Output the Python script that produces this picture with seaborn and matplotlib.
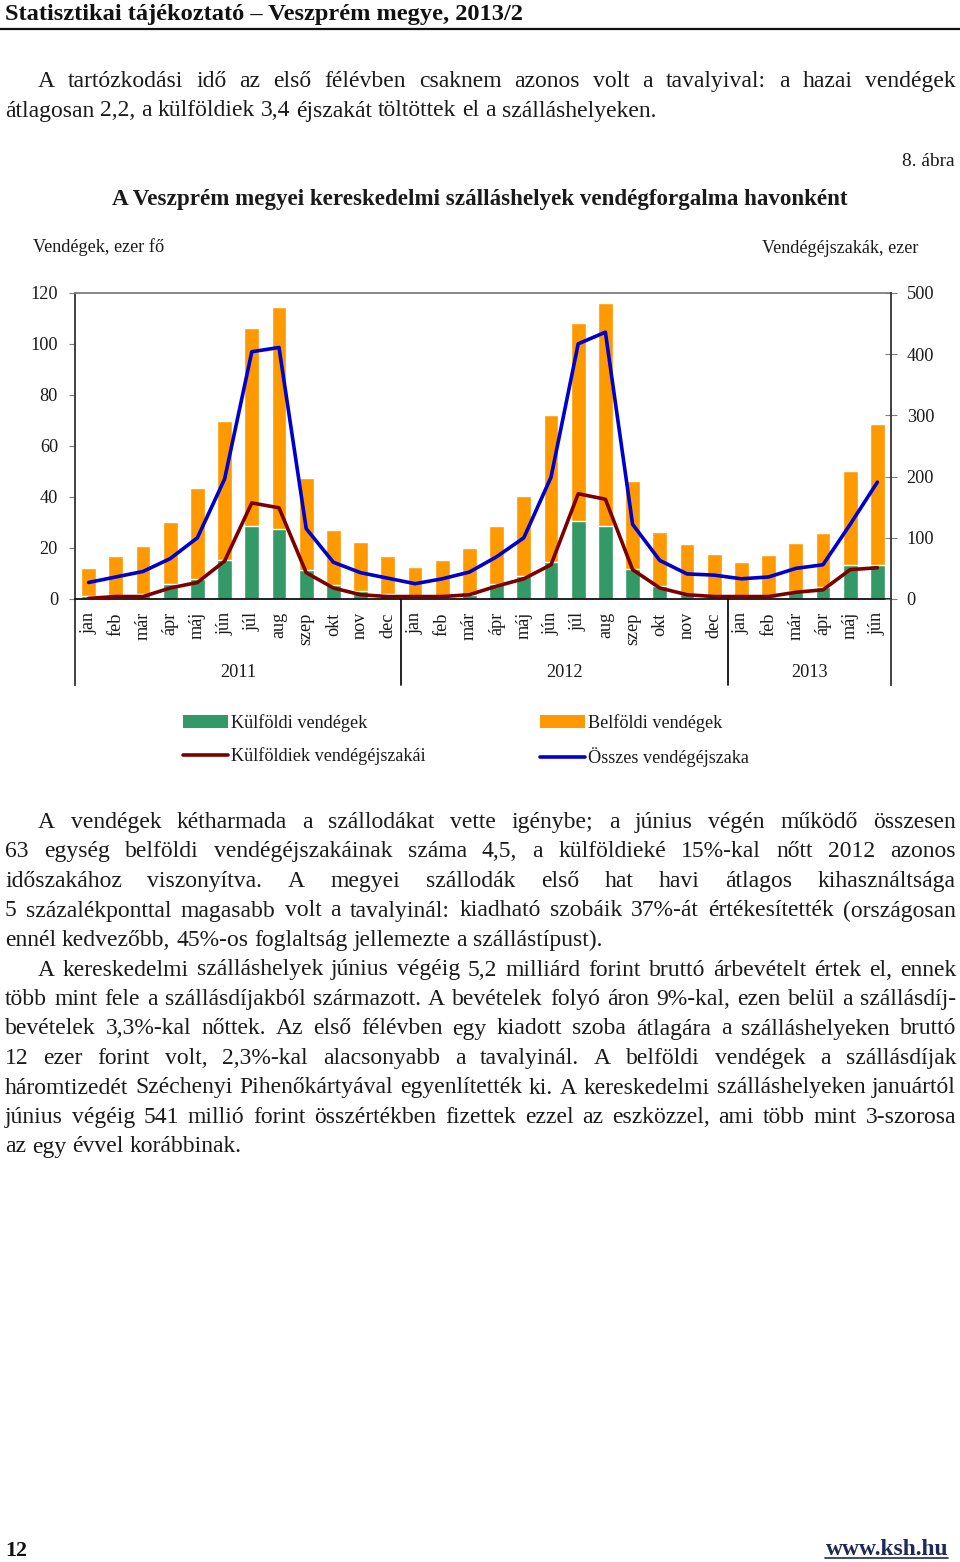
import matplotlib
matplotlib.use('Agg')
import matplotlib.pyplot as plt
import matplotlib.transforms as mtransforms
from matplotlib.patches import Patch
from matplotlib.lines import Line2D
import seaborn as sns
import pandas as pd
import numpy as np

# ---------------- data ----------------
months = ["jan", "feb", "már", "ápr", "máj", "jún", "júl", "aug", "szep", "okt", "nov", "dec",
          "jan", "feb", "már", "ápr", "máj", "jún", "júl", "aug", "szep", "okt", "nov", "dec",
          "jan", "feb", "már", "ápr", "máj", "jún"]
years = ["2011", "2012", "2013"]
year_lengths = [12, 12, 6]

# guests, thousand persons (left axis)
foreign_guests = [1.0, 0.5, 2.1, 5.9, 7.9, 15.2, 28.8, 27.5, 11.4, 5.4, 3.0, 2.1,
                  0.4, 0.5, 1.7, 5.9, 8.9, 14.4, 30.5, 28.7, 11.9, 5.0, 2.0, 1.0,
                  0.4, 0.4, 3.0, 4.7, 13.4, 13.4]
domestic_guests = [11.2, 16.5, 18.6, 24.1, 35.7, 54.5, 77.4, 86.9, 36.0, 21.6, 19.5, 14.9,
                   12.2, 14.6, 18.4, 22.8, 31.6, 57.8, 77.6, 87.4, 34.2, 21.3, 19.4, 16.7,
                   14.2, 16.8, 18.9, 21.1, 36.7, 55.2]
# guest nights, thousand (right axis)
foreign_nights = [1, 4, 4, 18, 27, 62, 157, 149, 43, 18, 7, 4,
                  4, 4, 7, 21, 33, 56, 172, 163, 48, 18, 7, 4,
                  4, 4, 11, 15, 48, 51]
total_nights = [27, 36, 45, 66, 100, 196, 404, 411, 115, 60, 43, 34,
                25, 33, 44, 69, 100, 199, 417, 436, 122, 63, 41, 39,
                33, 36, 50, 56, 122, 191]

left_ticks = [0, 20, 40, 60, 80, 100, 120]
right_ticks = [0, 100, 200, 300, 400, 500]

legend_labels = ["Külföldi vendégek", "Külföldiek vendégéjszakái",
                 "Belföldi vendégek", "Összes vendégéjszaka"]

para1 = ["A tartózkodási idő az első félévben csaknem azonos volt a tavalyival: a hazai vendégek",
         "átlagosan 2,2, a külföldiek 3,4 éjszakát töltöttek el a szálláshelyeken."]
para2 = ["A vendégek kétharmada a szállodákat vette igénybe; a június végén működő összesen",
         "63 egység belföldi vendégéjszakáinak száma 4,5, a külföldieké 15%-kal nőtt 2012 azonos",
         "időszakához viszonyítva. A megyei szállodák első hat havi átlagos kihasználtsága",
         "5 százalékponttal magasabb volt a tavalyinál: kiadható szobáik 37%-át értékesítették (országosan",
         "ennél kedvezőbb, 45%-os foglaltság jellemezte a szállástípust)."]
para3 = ["A kereskedelmi szálláshelyek június végéig 5,2 milliárd forint bruttó árbevételt értek el, ennek",
         "több mint fele a szállásdíjakból származott. A bevételek folyó áron 9%-kal, ezen belül a szállásdíj-",
         "bevételek 3,3%-kal nőttek. Az első félévben egy kiadott szoba átlagára a szálláshelyeken bruttó",
         "12 ezer forint volt, 2,3%-kal alacsonyabb a tavalyinál. A belföldi vendégek a szállásdíjak",
         "háromtizedét Széchenyi Pihenőkártyával egyenlítették ki. A kereskedelmi szálláshelyeken januártól",
         "június végéig 541 millió forint összértékben fizettek ezzel az eszközzel, ami több mint 3-szorosa",
         "az egy évvel korábbinak."]

# ---------------- style ----------------
sns.set_theme(style='white')
plt.rcParams['font.family'] = ['Liberation Serif', 'DejaVu Serif']
plt.rcParams['text.color'] = '#1a1a1a'

GREEN = '#339966'
ORANGE = '#FF9900'
BROWN = '#7B0000'
BLUE = '#0000CC'
TXT = '#1a1a1a'

W, H = 960, 1562
fig = plt.figure(figsize=(W / 100, H / 100), dpi=100)
renderer = fig.canvas.get_renderer()


def px(x, y):
    return x / W, 1 - y / H


def text_width(s, size, weight='normal'):
    t = fig.text(0, 0, s, fontsize=size, fontweight=weight)
    w = t.get_window_extent(renderer).width
    t.remove()
    return w


def fit_size(s, target, weight='normal'):
    return 15 * target / text_width(s, 15, weight)


# ---------------- header ----------------
hdr = "Statisztikai tájékoztató – Veszprém megye, 2013/2"
fig.text(*px(5, 20), hdr, fontsize=fit_size(hdr, 518, 'bold'), fontweight='bold',
         va='baseline', ha='left', color='#111111')
fig.add_artist(Line2D([0, 1], [1 - 28.5 / H] * 2, color='#111111', lw=1.6,
                      transform=fig.transFigure))

# ---------------- body text ----------------
body_size = fit_size(para1[1], 655)
space_w = text_width('a a', body_size) - text_width('aa', body_size)


def draw_line(s, x0, x1, ybase, justify):
    words = s.split(' ')
    widths = [text_width(w, body_size) for w in words]
    if justify and len(words) > 1:
        gap = (x1 - x0 - sum(widths)) / (len(words) - 1)
    else:
        gap = space_w
    x = x0
    for w, wd in zip(words, widths):
        fig.text(*px(x, ybase), w, fontsize=body_size, va='baseline', ha='left', color=TXT)
        x += wd + gap


def draw_para(lines, y0, step=29.5, indent=33, x0=5, x1=956):
    for i, line in enumerate(lines):
        xs = x0 + (indent if i == 0 else 0)
        draw_line(line, xs, x1, y0 + i * step, justify=(i < len(lines) - 1))


draw_para(para1, 87)
draw_para(para2, 828)
draw_para(para3, 975.5)

# ---------------- chart titles ----------------
title = "A Veszprém megyei kereskedelmi szálláshelyek vendégforgalma havonként"
fig.text(*px(480, 205), title, fontsize=fit_size(title, 735, 'bold'), fontweight='bold',
         ha='center', va='baseline', color=TXT)
fs_chart = fit_size("Vendégek, ezer fő", 132)
fig.text(*px(955, 166), "8. ábra", fontsize=fs_chart + 0.8, ha='right', va='baseline', color=TXT)
fig.text(*px(33, 252), "Vendégek, ezer fő", fontsize=fs_chart, ha='left', va='baseline', color=TXT)
fig.text(*px(918, 253), "Vendégéjszakák, ezer", fontsize=fs_chart, ha='right', va='baseline', color=TXT)

# ---------------- chart ----------------
ax_l, ax_r, ax_t, ax_b = 75, 891, 293, 599
ax = fig.add_axes([ax_l / W, 1 - ax_b / H, (ax_r - ax_l) / W, (ax_b - ax_t) / H])
ax2 = ax.twinx()

n = len(months)
idx = list(range(n))
df = pd.DataFrame({
    'idx': idx,
    'foreign': foreign_guests,
    'total': np.array(foreign_guests) + np.array(domestic_guests),
    'fn': foreign_nights,
    'tn': total_nights,
})

sns.barplot(data=df, x='idx', y='total', color=ORANGE, saturation=1, width=0.54,
            errorbar=None, ax=ax)
sns.barplot(data=df, x='idx', y='foreign', color=GREEN, saturation=1, width=0.54,
            errorbar=None, ax=ax)
sns.lineplot(data=df, x='idx', y='fn', color=BROWN, linewidth=2.6, ax=ax2)
sns.lineplot(data=df, x='idx', y='tn', color=BLUE, linewidth=2.6, ax=ax2)

ax.set_xlim(-0.5, n - 0.5)
ax2.set_xlim(-0.5, n - 0.5)
ax.set_ylim(0, 120)
ax2.set_ylim(0, 500)
ax.set_xlabel('')
ax.set_ylabel('')
ax2.set_xlabel('')
ax2.set_ylabel('')

ax.set_yticks(left_ticks)
ax.set_yticklabels([str(v) for v in left_ticks])
ax2.set_yticks(right_ticks)
ax2.set_yticklabels([str(v) for v in right_ticks])
ax.set_xticks(idx)
ax.set_xticklabels(months, rotation=90, va='top', ha='center')

ax.tick_params(axis='x', length=0, pad=9.5, labelsize=fs_chart, labelcolor=TXT)
ax.tick_params(axis='y', direction='out', length=4.3, width=0.8, color='#808080',
               pad=8, labelsize=fs_chart, labelcolor=TXT, left=True)
ax2.tick_params(axis='y', direction='inout', length=8.6, width=0.8, color='#808080',
                pad=7, labelsize=fs_chart, labelcolor=TXT, right=True)

ext = (685 - ax_b) / (ax_b - ax_t)  # extension below axes (axes fraction)
for a in (ax, ax2):
    for s in a.spines.values():
        s.set_visible(False)
ax.spines['top'].set_visible(True)
ax.spines['top'].set_color('#7f7f7f')
ax.spines['top'].set_linewidth(1.3)
ax.spines['bottom'].set_visible(True)
ax.spines['bottom'].set_color('#111111')
ax.spines['bottom'].set_linewidth(1.3)
ax.spines['left'].set_visible(True)
ax.spines['left'].set_color('#333333')
ax.spines['left'].set_linewidth(1.3)
ax.spines['left'].set_bounds(-ext * 120, 120)
ax2.spines['right'].set_visible(True)
ax2.spines['right'].set_color('#333333')
ax2.spines['right'].set_linewidth(1.3)
ax2.spines['right'].set_bounds(-ext * 500, 500)

trans = mtransforms.blended_transform_factory(ax.transData, ax.transAxes)
start = 0
centers = []
for yl, ln in zip(years, year_lengths):
    centers.append(start + (ln - 1) / 2)
    start += ln
    if start < n:
        ax.plot([start - 0.5, start - 0.5], [0, -ext], transform=trans, color='#111111',
                lw=1.3, clip_on=False)
for yl, c in zip(years, centers):
    ax.text(c, -(673 - ax_b) / (ax_b - ax_t), yl, transform=trans, ha='center', va='center',
            fontsize=fs_chart, color=TXT)

# ---------------- legend ----------------
leg_kw = dict(frameon=False, fontsize=fs_chart, handlelength=2.45, handletextpad=0.2,
              labelspacing=0.85, borderpad=0, borderaxespad=0, loc='upper left',
              bbox_transform=fig.transFigure, labelcolor=TXT)
h1 = [Patch(facecolor=GREEN, edgecolor='none'), Line2D([], [], color=BROWN, lw=2.6)]
h2 = [Patch(facecolor=ORANGE, edgecolor='none'), Line2D([], [], color=BLUE, lw=2.6)]
fig.legend(h1, legend_labels[:2], bbox_to_anchor=px(183, 714), **leg_kw)
fig.legend(h2, legend_labels[2:], bbox_to_anchor=px(540, 714), **leg_kw)

# ---------------- footer ----------------
fig.text(*px(5, 1556), "12", fontsize=fit_size("12", 22, 'bold'), fontweight='bold',
         ha='left', va='baseline', color='#111111')
link = "www.ksh.hu"
link_size = fit_size(link, 123, 'bold')
fig.text(*px(948, 1555), link, fontsize=link_size, fontweight='bold', ha='right',
         va='baseline', color='#1f2a5a')
fig.add_artist(Line2D([825 / W, 948 / W], [1 - 1558 / H] * 2, color='#1f2a5a', lw=1.2,
                      transform=fig.transFigure))

fig.savefig('out.png', dpi=100)
